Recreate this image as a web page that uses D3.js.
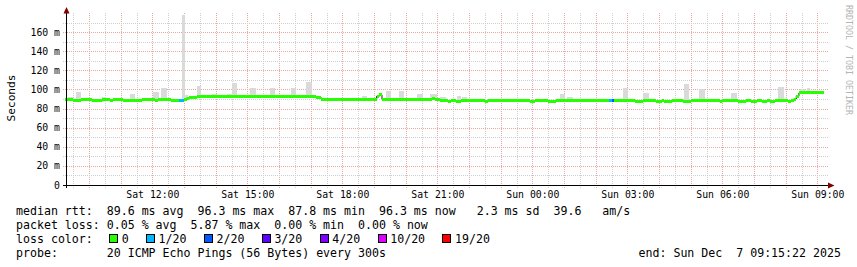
<!DOCTYPE html>
<html>
<head>
<meta charset="utf-8">
<script src="https://cdn.jsdelivr.net/npm/d3@7"></script>
<style>
  body { margin: 0; background: #fff; }
  text { font-family: "DejaVu Sans Mono", monospace; fill: #000; }
</style>
</head>
<body>
<div id="chart"></div>
<script>
// median rtt steps (start of each 5 min step), values in ms, loss count out of 20
const medianTimes = [
  "2025-12-06 09:15", "2025-12-06 09:30", "2025-12-06 09:45", "2025-12-06 10:05", "2025-12-06 10:25",
  "2025-12-06 10:40", "2025-12-06 10:45", "2025-12-06 11:05", "2025-12-06 11:40", "2025-12-06 12:05",
  "2025-12-06 12:10", "2025-12-06 12:35", "2025-12-06 12:50", "2025-12-06 13:00", "2025-12-06 13:05",
  "2025-12-06 13:10", "2025-12-06 13:25", "2025-12-06 17:10", "2025-12-06 17:20", "2025-12-06 19:05",
  "2025-12-06 19:10", "2025-12-06 19:15", "2025-12-06 20:50", "2025-12-06 20:55", "2025-12-06 21:05",
  "2025-12-06 21:20", "2025-12-06 21:25", "2025-12-06 21:35", "2025-12-06 21:45", "2025-12-06 22:30",
  "2025-12-06 22:35", "2025-12-06 23:55", "2025-12-07 00:05", "2025-12-07 00:30", "2025-12-07 00:45",
  "2025-12-07 02:25", "2025-12-07 02:30", "2025-12-07 02:35", "2025-12-07 03:15", "2025-12-07 03:30",
  "2025-12-07 03:55", "2025-12-07 04:05", "2025-12-07 04:10", "2025-12-07 04:25", "2025-12-07 04:45",
  "2025-12-07 05:00", "2025-12-07 05:55", "2025-12-07 06:00", "2025-12-07 06:30", "2025-12-07 06:45",
  "2025-12-07 06:55", "2025-12-07 07:05", "2025-12-07 07:15", "2025-12-07 07:25", "2025-12-07 07:30",
  "2025-12-07 07:40", "2025-12-07 08:05", "2025-12-07 08:10", "2025-12-07 08:15", "2025-12-07 08:20",
  "2025-12-07 08:25", "2025-12-07 09:12"
];
const medianValues = [
  89.0, 88.0, 89.0, 88.0, 89.0,
  88.0, 89.0, 88.0, 89.0, 88.0,
  89.0, 88.0, 88.0, 90.0, 91.0,
  92.0, 93.1, 91.4, 90.0, 93.0,
  94.2, 90.0, 91.0, 89.0, 88.0,
  87.0, 88.0, 87.0, 88.0, 87.0,
  88.0, 87.0, 88.0, 87.0, 88.0,
  88.0, 88.0, 88.0, 87.0, 88.0,
  87.0, 88.0, 87.0, 88.0, 87.0,
  88.0, 87.0, 88.0, 87.0, 88.0,
  87.0, 88.0, 87.0, 88.0, 87.0,
  88.0, 87.0, 88.5, 90.0, 93.0,
  96.3, 96.3
];
const medianLoss = [
  0, 0, 0, 0, 0,
  0, 0, 0, 0, 0,
  0, 0, 1, 0, 0,
  0, 0, 0, 0, 0,
  0, 0, 0, 0, 0,
  0, 0, 0, 0, 0,
  0, 0, 0, 0, 0,
  1, 2, 0, 0, 0,
  0, 0, 0, 0, 0,
  0, 0, 0, 0, 0,
  0, 0, 0, 0, 0,
  0, 0, 0, 0, 0,
  0, 0
];

// smoke (ping spread) bars: start, end, highest ping in ms
const smokeStart = [
  "2025-12-06 09:21", "2025-12-06 09:35", "2025-12-06 10:24", "2025-12-06 11:18", "2025-12-06 12:01",
  "2025-12-06 12:16", "2025-12-06 12:56", "2025-12-06 13:02", "2025-12-06 13:25", "2025-12-06 13:53",
  "2025-12-06 14:21", "2025-12-06 14:31", "2025-12-06 15:05", "2025-12-06 15:43", "2025-12-06 16:23",
  "2025-12-06 16:51", "2025-12-06 18:37", "2025-12-06 19:23", "2025-12-06 19:47", "2025-12-06 20:21",
  "2025-12-06 20:46", "2025-12-06 21:05", "2025-12-06 21:37", "2025-12-06 21:47", "2025-12-07 00:52",
  "2025-12-07 01:06", "2025-12-07 02:52", "2025-12-07 03:30", "2025-12-07 04:47", "2025-12-07 05:16",
  "2025-12-07 06:16", "2025-12-07 07:45", "2025-12-07 08:27", "2025-12-07 08:37", "2025-12-07 08:41",
  "2025-12-07 08:46"
];
const smokeEnd = [
  "2025-12-06 09:30", "2025-12-06 09:45", "2025-12-06 10:32", "2025-12-06 11:27", "2025-12-06 12:12",
  "2025-12-06 12:28", "2025-12-06 13:02", "2025-12-06 13:08", "2025-12-06 13:33", "2025-12-06 14:03",
  "2025-12-06 14:31", "2025-12-06 14:40", "2025-12-06 15:16", "2025-12-06 15:52", "2025-12-06 16:32",
  "2025-12-06 17:02", "2025-12-06 18:47", "2025-12-06 19:32", "2025-12-06 19:57", "2025-12-06 20:33",
  "2025-12-06 20:59", "2025-12-06 21:16", "2025-12-06 21:45", "2025-12-06 21:56", "2025-12-07 01:02",
  "2025-12-07 01:17", "2025-12-07 03:01", "2025-12-07 03:41", "2025-12-07 04:57", "2025-12-07 05:27",
  "2025-12-07 06:28", "2025-12-07 07:57", "2025-12-07 08:37", "2025-12-07 08:41", "2025-12-07 08:46",
  "2025-12-07 08:50"
];
const smokeTop = [
  92.4, 97.0, 92.4, 95.2, 97.6,
  101.3, 178.0, 94.2, 103.8, 95.5,
  95.0, 106.4, 101.2, 101.2, 101.2,
  108.0, 93.4, 98.5, 98.4, 95.2,
  95.4, 92.4, 93.0, 92.4, 95.0,
  91.8, 101.2, 96.4, 105.7, 100.0,
  96.4, 102.6, 100.0, 98.0, 102.0,
  98.0
];

// legend
const lossLabels = ["0", "1/20", "2/20", "3/20", "4/20", "10/20", "19/20"];
const lossColors = ["#26ff00", "#00b8ff", "#0059ff", "#5e00ff", "#7e00ff", "#dd00ff", "#ff0000"];
const legendLines = [
  "median rtt:  89.6 ms avg  96.3 ms max  87.8 ms min  96.3 ms now   2.3 ms sd  39.6   am/s",
  "packet loss: 0.05 % avg  5.87 % max  0.00 % min  0.00 % now",
  "loss color:",
  "probe:       20 ICMP Echo Pings (56 Bytes) every 300s"
];
const endLabel = "end: Sun Dec  7 09:15:22 2025";
const timeStart = "2025-12-06 09:15:22";
const timeEnd = "2025-12-07 09:15:22";
const yMax = 180;

const width = 857;
const height = 267;
const plot = { left: 65.5, right: 825.5, top: 13, bottom: 185 };

const parse = d3.timeParse("%Y-%m-%d %H:%M");
const parseSec = d3.timeParse("%Y-%m-%d %H:%M:%S");
// keep runs of spaces in svg text
const keepSpaces = s => s.replace(/ /g, "\u00a0");

const median = medianTimes.map((t, i) => ({ t: parse(t), v: medianValues[i], loss: medianLoss[i] }));
const smoke = smokeStart.map((s, i) => ({ s: parse(s), e: parse(smokeEnd[i]), top: smokeTop[i] }));

const svg = d3.select("#chart")
  .append("svg")
  .attr("width", width)
  .attr("height", height);

svg.append("rect")
  .attr("width", width)
  .attr("height", height)
  .attr("fill", "#fff");

const x = d3.scaleTime()
  .domain([parseSec(timeStart), parseSec(timeEnd)])
  .range([plot.left, plot.right]);

const y = d3.scaleLinear()
  .domain([0, yMax])
  .range([plot.bottom, plot.top]);

// grid - minor grey, major red, both dotted
const grid = svg.append("g").attr("shape-rendering", "crispEdges");
const snap = v => Math.round(v) + 0.5;

x.ticks(d3.timeMinute.every(30)).forEach(t => {
  const major = t.getMinutes() === 0;
  grid.append("line")
    .attr("x1", snap(x(t))).attr("x2", snap(x(t)))
    .attr("y1", plot.top).attr("y2", plot.bottom + 3)
    .attr("stroke", major ? "#eaa6a6" : "#cfcfcf")
    .attr("stroke-dasharray", "1,1");
});

d3.range(10, yMax, 10).forEach(v => {
  const major = v % 20 === 0;
  grid.append("line")
    .attr("x1", plot.left - 3).attr("x2", plot.right + 2)
    .attr("y1", snap(y(v))).attr("y2", snap(y(v)))
    .attr("stroke", major ? "#eaa6a6" : "#cfcfcf")
    .attr("stroke-dasharray", "1,1");
});

// smoke
const medianAt = t => {
  const i = d3.bisector(d => d.t).right(median, t) - 1;
  return median[Math.max(0, i)].v;
};

svg.append("g")
  .attr("shape-rendering", "crispEdges")
  .selectAll("rect")
  .data(smoke)
  .enter()
  .append("rect")
  .attr("x", d => x(d.s))
  .attr("width", d => x(d.e) - x(d.s))
  .attr("y", d => y(d.top))
  .attr("height", d => y(medianAt(d.s) - 1) - y(d.top))
  .attr("fill", "#dadada");

// thin dark median line underneath
const stepLine = d3.line()
  .x(d => x(d.t))
  .y(d => y(d.v))
  .curve(d3.curveStepAfter);

svg.append("path")
  .datum(median)
  .attr("d", stepLine)
  .attr("fill", "none")
  .attr("stroke", "#202020")
  .attr("stroke-width", 1);

// loss coloured median bands (3px high)
const bandHalf = 1.5;
svg.append("g")
  .attr("shape-rendering", "crispEdges")
  .selectAll("rect")
  .data(median.slice(0, -1))
  .enter()
  .append("rect")
  .attr("x", d => x(d.t))
  .attr("width", (d, i) => x(median[i + 1].t) - x(d.t))
  .attr("y", d => y(d.v) - bandHalf)
  .attr("height", bandHalf * 2)
  .attr("fill", d => lossColors[d.loss]);

// axes
const axisG = svg.append("g").attr("shape-rendering", "crispEdges");
axisG.append("line")
  .attr("x1", 66.5).attr("x2", 66.5)
  .attr("y1", plot.top - 2).attr("y2", plot.bottom + 3)
  .attr("stroke", "#000");
axisG.append("line")
  .attr("x1", plot.left - 3).attr("x2", plot.right + 4)
  .attr("y1", 185.5).attr("y2", 185.5)
  .attr("stroke", "#000");

svg.append("path")
  .attr("d", "M63.5,13.5 L66.5,7 L69.5,13.5 Z")
  .attr("fill", "#800000");
svg.append("path")
  .attr("d", "M828,182.5 L834.5,185.5 L828,188.5 Z")
  .attr("fill", "#800000");

// y labels
d3.range(0, yMax, 20).forEach(v => {
  svg.append("text")
    .attr("x", 60)
    .attr("y", y(v))
    .attr("dy", "0.36em")
    .attr("text-anchor", "end")
    .style("font-size", "9.8px")
    .text(v === 0 ? "0" : keepSpaces(`${v} m`));
});

// x labels
const fmt = d3.timeFormat("%a %H:%M");
x.ticks(d3.timeHour.every(3)).forEach(t => {
  svg.append("text")
    .attr("x", x(t) + 0.5)
    .attr("y", 198)
    .attr("text-anchor", "middle")
    .style("font-size", "9.8px")
    .text(keepSpaces(fmt(t)));
});

// axis title
svg.append("text")
  .attr("transform", "translate(15,98) rotate(-90)")
  .attr("text-anchor", "middle")
  .style("font-size", "11.2px")
  .text("Seconds");

svg.append("text")
  .attr("transform", "translate(845.5,5) rotate(90)")
  .attr("text-anchor", "start")
  .style("font-size", "8.3px")
  .style("fill", "#b4b4b4")
  .text(keepSpaces("RRDTOOL / TOBI OETIKER"));

// legend
const legendY = [215, 229, 243, 257];
legendLines.forEach((line, i) => {
  svg.append("text")
    .attr("x", 16)
    .attr("y", legendY[i])
    .style("font-size", "11.6px")
    .text(keepSpaces(line));
});

let sx = 109;
lossLabels.forEach((lab, i) => {
  svg.append("rect")
    .attr("x", sx + 0.5)
    .attr("y", 234.5)
    .attr("width", 8)
    .attr("height", 8)
    .attr("fill", lossColors[i])
    .attr("stroke", "#000")
    .attr("shape-rendering", "crispEdges");
  svg.append("text")
    .attr("x", sx + 12.7)
    .attr("y", legendY[2])
    .style("font-size", "11.6px")
    .text(lab);
  sx = sx + 12.7 + lab.length * 7 + 17.2;
});

svg.append("text")
  .attr("x", 638.5)
  .attr("y", legendY[3])
  .style("font-size", "11.6px")
  .text(keepSpaces(endLabel));
</script>
</body>
</html>
